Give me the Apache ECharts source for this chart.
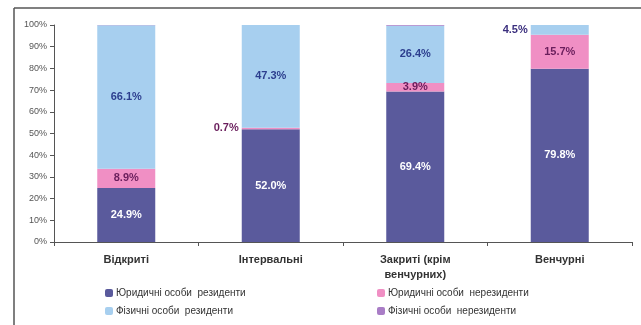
<!DOCTYPE html>
<html><head><meta charset="utf-8">
<script src="https://cdn.jsdelivr.net/npm/echarts@6/dist/echarts.min.js"></script>
<style>html,body{margin:0;padding:0;background:#fff}#c{width:641px;height:325px}</style>
</head><body><div id="c"></div>
<script>
const categories = ['Відкриті', 'Інтервальні', 'Закриті (крім\nвенчурних)', 'Венчурні'];
const seriesNames = ['Юридичні особи  резиденти', 'Юридичні особи  нерезиденти', 'Фізичні особи  резиденти', 'Фізичні особи  нерезиденти'];
const legalResidents = [24.9, 52.0, 69.4, 79.8];
const legalNonResidents = [8.9, 0.7, 3.9, 15.7];
const personsResidents = [66.1, 47.3, 26.4, 4.5];
const personsNonResidents = [0.1, 0, 0.3, 0];
const yTicks = [0, 10, 20, 30, 40, 50, 60, 70, 80, 90, 100];

const colors = ['#5a5a9c', '#f08fc4', '#a7cfef', '#a97dc6'];
const labelColors = ['#ffffff', '#6a1e5c', '#2c3e8e', '#6a1e5c'];
const values = [legalResidents, legalNonResidents, personsResidents, personsNonResidents];
const FONT = 'Liberation Sans, Arial, sans-serif';

const chart = echarts.init(document.getElementById('c'));
const series = values.map((vals, si) => ({
  name: seriesNames[si],
  type: 'bar',
  stack: 'total',
  barWidth: 58,
  itemStyle: { color: colors[si] },
  data: vals.map((v, ci) => {
    const d = { value: v };
    let show = v >= 2 && si !== 3;
    let pos = 'inside';
    let col = labelColors[si];
    if (si === 1 && ci === 1) { show = true; pos = 'left'; }
    if (si === 2 && ci === 3) { show = true; pos = 'left'; col = '#3b2f7e'; }
    d.label = { show: show, position: pos, color: col, distance: 3 };
    return d;
  }),
  label: {
    fontFamily: FONT,
    fontWeight: 'bold',
    fontSize: 11,
    formatter: p => p.value.toFixed(1) + '%'
  }
}));

const legendPos = [[105, 288], [377, 288], [105, 306], [377, 306]];
const legends = seriesNames.map((n, i) => ({
  data: [n], left: legendPos[i][0], top: legendPos[i][1],
  itemWidth: 8, itemHeight: 8, itemGap: 4, padding: 0,
  textStyle: { fontSize: 10, color: '#333', fontFamily: FONT, padding: [0, 0, 0, -2] }
}));

chart.setOption({
  animation: false,
  backgroundColor: '#fff',
  grid: { left: 54, right: 9, top: 25, bottom: 83, containLabel: false },
  xAxis: {
    type: 'category',
    data: categories,
    axisLine: { lineStyle: { color: '#555', width: 1 } },
    axisTick: { show: true, length: 4, lineStyle: { color: '#555' } },
    axisLabel: { color: '#333', fontWeight: 'bold', fontSize: 11, margin: 10, lineHeight: 15, fontFamily: FONT }
  },
  yAxis: {
    type: 'value',
    min: yTicks[0], max: yTicks[yTicks.length - 1], interval: 10,
    axisLine: { show: true, lineStyle: { color: '#555' } },
    axisTick: { show: true, length: 4, lineStyle: { color: '#555' } },
    splitLine: { show: false },
    axisLabel: { color: '#555', fontSize: 9, margin: 7, formatter: v => v + '%', fontFamily: FONT }
  },
  legend: legends,
  graphic: [
    { type: 'line', shape: { x1: 14, y1: 8, x2: 641, y2: 8 }, style: { stroke: '#808080', lineWidth: 2 } },
    { type: 'line', shape: { x1: 14, y1: 8, x2: 14, y2: 325 }, style: { stroke: '#555', lineWidth: 1.5 } }
  ],
  series: series
});
</script></body></html>
